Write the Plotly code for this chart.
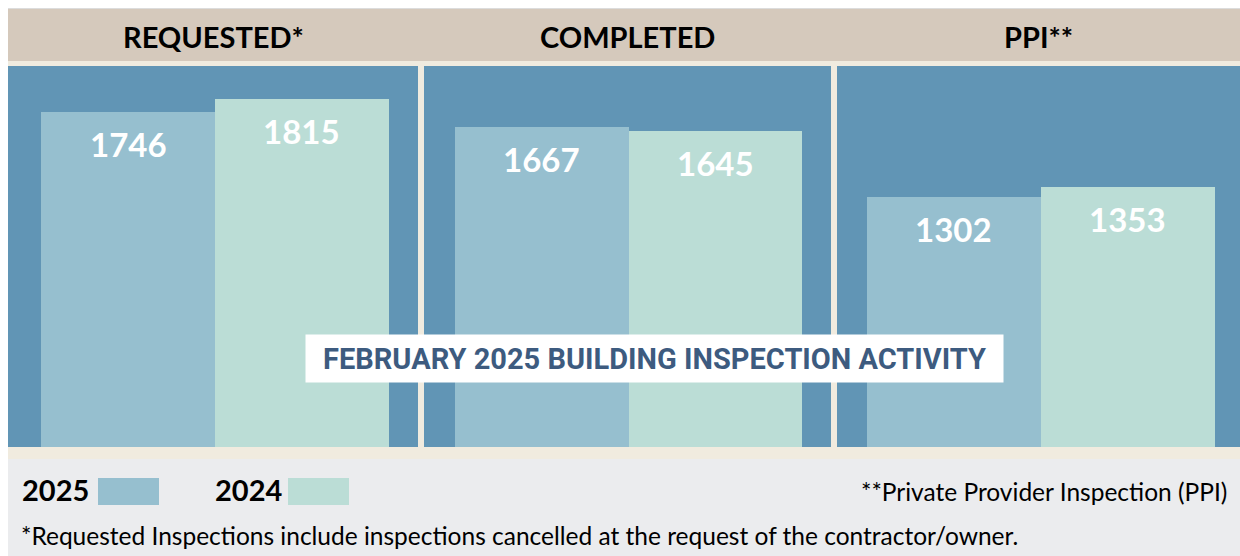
import plotly.graph_objects as go

# ---- data ----
panels = ["REQUESTED*", "COMPLETED", "PPI**"]
years = ["2025", "2024"]
values_2025 = [1746, 1667, 1302]
values_2024 = [1815, 1645, 1353]
title_text = "FEBRUARY 2025 BUILDING INSPECTION ACTIVITY"
footnote_1 = "*Requested Inspections include inspections cancelled at the request of the contractor/owner."
footnote_2 = "**Private Provider Inspection (PPI)"

# ---- style ----
W, H = 1240, 556
C_HEADER = "#d5c9bc"
C_CREAM = "#f0ebdf"
C_PANEL = "#6195b5"
C_2025 = "#96bfcf"
C_2024 = "#bbddd6"
C_BOTTOM = "#ebecee"
C_TITLE = "#3d5b7f"
FONT = "Lato"
LEFT = 8

def px(x):
    return x / W

def py(y):
    return 1 - y / H

panel_px = [(8, 418), (424, 831), (837, 1240)]
x_ranges = [[-0.69, 1.667], [-0.679, 1.667], [-0.672, 1.644]]
y_top, y_bot = 66, 447
y_range = [0, 1985]

fig = go.Figure()
shapes = []
shapes.append(dict(type="rect", xref="paper", yref="paper", x0=px(LEFT), x1=1, y0=py(8), y1=py(61),
                   fillcolor=C_HEADER, line=dict(width=0), layer="below"))
shapes.append(dict(type="rect", xref="paper", yref="paper", x0=px(LEFT), x1=1, y0=py(61), y1=py(459),
                   fillcolor=C_CREAM, line=dict(width=0), layer="below"))
shapes.append(dict(type="rect", xref="paper", yref="paper", x0=px(LEFT), x1=1, y0=py(459), y1=0,
                   fillcolor=C_BOTTOM, line=dict(width=0), layer="below"))
shapes.append(dict(type="line", xref="paper", yref="paper", x0=px(LEFT), x1=1, y0=py(8.5), y1=py(8.5),
                   line=dict(color="#dcdcdc", width=1), layer="below"))
for (a, b) in panel_px:
    shapes.append(dict(type="rect", xref="paper", yref="paper", x0=px(a), x1=px(b), y0=py(y_bot), y1=py(y_top),
                       fillcolor=C_PANEL, line=dict(width=0), layer="below"))

def txt(x, y, text, size, color="black", bold=False, xanchor="center", family=FONT, **kw):
    d = dict(x=x, y=y, xref="paper", yref="paper", text=text, showarrow=False,
             xanchor=xanchor, yanchor="middle",
             font=dict(family=family, size=size, color=color, weight="bold" if bold else "normal"))
    d.update(kw)
    return d

annotations = []
for i, name in enumerate(panels):
    sfx = "" if i == 0 else str(i + 1)
    xa, ya = "x" + sfx, "y" + sfx
    vals = [values_2025[i], values_2024[i]]
    fig.add_trace(go.Bar(x=years, y=vals, marker=dict(color=[C_2025, C_2024], line=dict(width=0)),
                         width=1.0, xaxis=xa, yaxis=ya, showlegend=False, hoverinfo="x+y"))
    for k, v in enumerate(vals):
        annotations.append(dict(x=k, y=v, xref=xa, yref=ya, text=str(v), showarrow=False,
                                xanchor="center", yanchor="middle", yshift=-32,
                                font=dict(family=FONT, size=33, color="white", weight="bold")))
    a, b = panel_px[i]
    annotations.append(txt((px(a) + px(b)) / 2, py(36), name, 29, bold=True))
    fig.layout["xaxis" + sfx] = dict(domain=[px(a), px(b)], range=x_ranges[i], visible=False,
                                    type="category", fixedrange=True, anchor=ya)
    fig.layout["yaxis" + sfx] = dict(domain=[py(y_bot), py(y_top)], range=y_range,
                                    visible=False, fixedrange=True, anchor=xa)

# title box
annotations.append(txt(px((306 + 1003) / 2), py(358.5), title_text, 29, color=C_TITLE, bold=True,
                       family="Roboto", bgcolor="white", width=697, height=47, borderpad=0))

# legend
annotations.append(txt(px(20), py(489), years[0], 29, bold=True, xanchor="left"))
annotations.append(txt(px(213), py(489), years[1], 29, bold=True, xanchor="left"))
shapes.append(dict(type="rect", xref="paper", yref="paper", x0=px(98), x1=px(159), y0=py(505), y1=py(478),
                   fillcolor=C_2025, line=dict(width=0)))
shapes.append(dict(type="rect", xref="paper", yref="paper", x0=px(288), x1=px(349), y0=py(505), y1=py(478),
                   fillcolor=C_2024, line=dict(width=0)))
annotations.append(txt(px(1229), py(491), footnote_2, 24.5, xanchor="right"))
annotations.append(txt(px(19), py(535), footnote_1, 24.5, xanchor="left"))

fig.update_layout(width=W, height=H, margin=dict(l=0, r=0, t=0, b=0, pad=0), paper_bgcolor="white",
                  plot_bgcolor="rgba(0,0,0,0)", shapes=shapes, annotations=annotations, bargap=0)
fig.write_html("out.html", config={"displayModeBar": False},
               post_script="document.body.style.margin='0';document.body.style.overflow='hidden';")
